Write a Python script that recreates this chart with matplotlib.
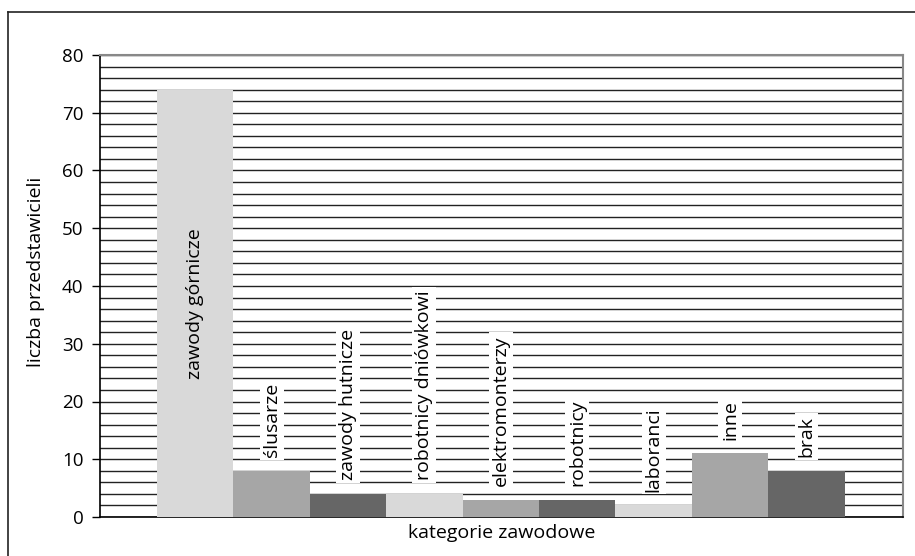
import numpy as np
import matplotlib.pyplot as plt
from matplotlib.lines import Line2D

categories = ["zawody górnicze", "ślusarze", "zawody hutnicze", "robotnicy dniówkowi",
              "elektromonterzy", "robotnicy", "laboranci", "inne", "brak"]
values = [74, 8, 4, 4, 3, 3, 2, 11, 8]
colors = ["#d9d9d9", "#a6a6a6", "#666666"] * 3

plt.rcParams['font.family'] = ['Open Sans', 'DejaVu Sans']

fig = plt.figure(figsize=(9.15, 5.56), dpi=100)
ax = fig.add_axes([100 / 915, 39 / 556, 803 / 915, 462 / 556])

x = np.arange(len(values))
ax.bar(x, values, width=1.0, color=colors, zorder=3)

ax.set_ylim(0, 80)
ax.set_xlim(-1.246, 9.264)
ax.set_yticks(np.arange(0, 81, 10))
ax.set_yticks(np.arange(0, 81, 2), minor=True)
ax.grid(axis='y', which='both', color='#222222', linewidth=1.0, zorder=0)
ax.set_xticks([])
ax.tick_params(axis='y', which='major', length=6, width=1, labelsize=13.5, pad=6)
ax.tick_params(axis='y', which='minor', length=0)

for side in ['left', 'bottom']:
    ax.spines[side].set_color('#000000')
    ax.spines[side].set_linewidth(1.2)
for side in ['top', 'right']:
    ax.spines[side].set_color('#888888')
    ax.spines[side].set_linewidth(1.5)

# label for first bar sits inside the bar
ax.text(x[0], 50, categories[0], rotation=90, ha='center', va='top',
        fontsize=14, zorder=4)
for xi, v, name in zip(x[1:], values[1:], categories[1:]):
    ax.annotate(name, (xi, v), xytext=(0, 10), textcoords='offset points',
                rotation=90, ha='center', va='bottom', fontsize=14, zorder=4,
                bbox=dict(boxstyle='square,pad=0.15', fc='white', ec='none'))

ax.set_ylabel("liczba przedstawicieli", fontsize=14)
ax.yaxis.set_label_coords(-0.0685, 0.53)
ax.set_xlabel("kategorie zawodowe", fontsize=14, labelpad=5)

# outer frame (top and left edges visible)
fig.add_artist(Line2D([8 / 915, 8 / 915], [0, 1 - 12 / 556], color='#222222', lw=1.2))
fig.add_artist(Line2D([8 / 915, 1], [1 - 12 / 556, 1 - 12 / 556], color='#222222', lw=1.2))

fig.savefig("out.png", dpi=100)
